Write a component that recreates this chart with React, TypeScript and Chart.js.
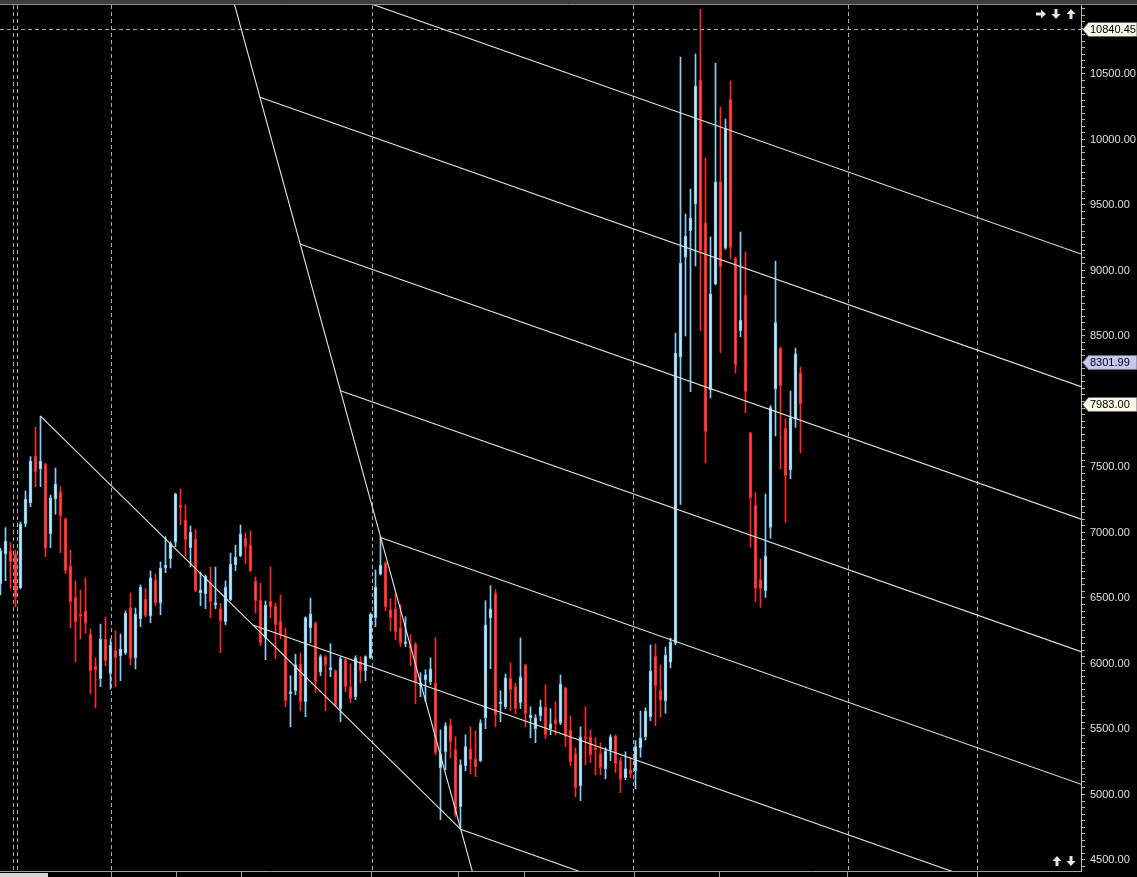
import React, { useEffect, useRef } from 'react';
import { Chart, registerables } from 'chart.js';

Chart.register(...registerables);

// ---- Candles (bar index 0..160) ----
const openPrices = [
  6607, 6834, 6859, 6836, 6579, 7067, 7227, 7584, 7485, 7523,
  6991, 7258, 7311, 7105, 6744, 6505, 6378, 6401, 6225, 5981,
  5884, 6187, 5925, 6103, 6059, 6078, 6424, 6044, 6342, 6492,
  6365, 6637, 6464, 6731, 6800, 6927, 7210, 7095, 6884, 6950,
  6540, 6533, 6614, 6449, 6418, 6319, 6487, 6754, 6823, 6958,
  6904, 6630, 6485, 6197, 6477, 6439, 6324, 6197, 5769, 5792,
  5998, 5708, 6273, 6311, 5937, 6052, 5953, 5945, 5655, 6029,
  5823, 5746, 6014, 5945, 6044, 6350, 6681, 6769, 6411, 6418,
  6273, 6151, 6143, 6151, 5830, 5876, 5861, 5853, 5204, 5326,
  5530, 5342, 4907, 5220, 5349, 5273, 5258, 5586, 6350, 6533,
  5693, 5670, 5889, 5828, 5701, 5988, 5586, 5502, 5601, 5670,
  5502, 5571, 5548, 5815, 5494, 5311, 5067, 5441, 5441, 5357,
  5311, 5197, 5342, 5448, 5258, 5128, 5189, 5181, 5357, 5441,
  5594, 6057, 5798, 5716, 6011, 6156, 8340, 9101, 9304, 9508,
  10454, 9363, 8088, 8897, 9676, 9170, 10309, 9095, 8540, 8813,
  7760, 7210, 6640, 6555, 7038, 8098, 8408, 7798, 7477, 7869,
  8218,
];
const highPrices = [
  6879, 7037, 6922, 6866, 7080, 7317, 7579, 7805, 7889, 7530,
  7286, 7492, 7350, 7111, 6866, 6630, 6561, 6653, 6263, 6042,
  6301, 6355, 6187, 6248, 6225, 6401, 6538, 6424, 6599, 6571,
  6706, 6683, 6775, 6968, 6930, 7301, 7332, 7210, 7050, 7019,
  6698, 6675, 6737, 6737, 6459, 6630, 6843, 6904, 7057, 6996,
  7011, 6660, 6614, 6477, 6737, 6462, 6523, 6271, 5907, 6070,
  6082, 6357, 6500, 6318, 6067, 6060, 6151, 5952, 6052, 6037,
  5998, 6059, 6052, 6059, 6385, 6714, 6968, 6776, 6495, 6533,
  6449, 6357, 6220, 6159, 5930, 5953, 6044, 6197, 5494, 5548,
  5576, 5441, 5265, 5456, 5517, 5487, 5571, 6479, 6594, 6563,
  5792, 5920, 6004, 5851, 6195, 5995, 5670, 5609, 5721, 5836,
  5655, 5708, 5912, 5820, 5601, 5357, 5517, 5670, 5494, 5433,
  5395, 5357, 5456, 5456, 5281, 5326, 5281, 5411, 5637, 5662,
  6141, 6149, 5988, 6126, 6195, 8523, 10630, 9431, 9622, 10653,
  10994, 9859, 9256, 10582, 10248, 10157, 10447, 9100, 9294, 9141,
  7765, 7304, 6799, 7294, 7969, 9072, 8415, 7869, 8080, 8408,
  8263,
];
const lowPrices = [
  6523, 6632, 6574, 6433, 6569, 7044, 7197, 7350, 7350, 6815,
  6884, 7139, 6846, 6688, 6273, 6014, 6187, 6230, 5767, 5662,
  5823, 5981, 5805, 5823, 5869, 6070, 5988, 5958, 6281, 6357,
  6311, 6441, 6372, 6693, 6729, 6892, 7059, 6823, 6739, 6548,
  6441, 6418, 6350, 6418, 6082, 6296, 6480, 6708, 6815, 6762,
  6700, 6385, 6136, 6029, 6350, 6037, 6189, 5670, 5517, 5762,
  5640, 5594, 6159, 5777, 5907, 5640, 5899, 5670, 5556, 5785,
  5701, 5724, 5853, 5869, 6037, 6281, 6675, 6403, 6250, 6182,
  6128, 6128, 5983, 5693, 5746, 5708, 5838, 5304, 4807, 5189,
  5281, 4830, 4742, 5181, 5159, 5136, 5250, 5502, 5960, 5517,
  5556, 5655, 5640, 5617, 5655, 5517, 5433, 5395, 5563, 5426,
  5456, 5456, 5533, 5365, 5220, 4983, 4953, 5227, 5243, 5151,
  5151, 5120, 5258, 5166, 5014, 5113, 5128, 5044, 5284, 5416,
  5563, 5525, 5589, 5620, 5966, 6141, 7214, 8500, 8075, 9034,
  8540, 7533, 8027, 8890, 8372, 9160, 9088, 8218, 8495, 7914,
  6889, 6473, 6428, 6504, 6956, 7737, 7485, 7077, 7410, 7802,
  7607,
];
const closePrices = [
  6861, 6935, 6777, 6510, 7065, 7256, 7546, 7464, 7546, 6879,
  7263, 7370, 7128, 6708, 6472, 6317, 6357, 6307, 5945, 5953,
  6187, 6021, 6141, 6044, 6111, 6385, 6037, 6378, 6584, 6365,
  6653, 6464, 6729, 6752, 6917, 7294, 7189, 6945, 7004, 6556,
  6561, 6668, 6472, 6464, 6327, 6584, 6759, 6813, 6988, 6892,
  6708, 6479, 6159, 6446, 6433, 6296, 6220, 5716, 5785, 5991,
  5708, 6350, 6380, 5861, 6052, 5991, 5968, 5678, 6037, 5823,
  5731, 6044, 5945, 6052, 6378, 6584, 6752, 6433, 6350, 6243,
  6159, 6166, 6120, 5853, 5853, 5914, 5960, 5319, 5311, 5525,
  5403, 4846, 5227, 5365, 5265, 5212, 5548, 6296, 6418, 5609,
  5708, 5889, 5800, 5655, 5897, 5617, 5607, 5586, 5670, 5456,
  5540, 5540, 5843, 5441, 5250, 5052, 5441, 5426, 5304, 5342,
  5204, 5334, 5441, 5235, 5113, 5197, 5159, 5365, 5433, 5637,
  5943, 5830, 5721, 6065, 6164, 8370, 9057, 9263, 9401, 10409,
  9151, 7769, 8821, 9676, 9029, 10088, 9174, 8279, 8622, 8075,
  7263, 6573, 6573, 6821, 7953, 8603, 8120, 7431, 7878, 8363,
  7983,
];

// ---- Axis ticks / markers ----
const yMin = 4416;
const yMax = 11026.7;
const yTickStep = 50;
const yLabelStep = 500;
const yLabelTop = 10500;
const xTickPositions = [22.1, 35.1, 48.1, 74.3, 91.5, 104.7, 126.7, 143.7, 169.3, 195.3];
const sessionBreaks = [2.56, 3.36, 22.16, 74.36, 126.6, 169.5, 195.3];
const referenceLevel = 10840.45;
const priceTagValues = [10840.45, 8301.99, 7983.0];
const priceTagKinds = ['cream', 'blue', 'cream'];

// ---- Drawn trend lines (bar index, price) ----
const trendLineDown = [[8, 7889], [92, 4735]];
const trendLineSteep = [[46, 11141], [95, 4325]];
const channelLines = [
  [[43.8, 11443], [217, 9114]],
  [[51.9, 10323], [217, 8102]],
  [[59.9, 9203], [217, 7090]],
  [[68.0, 8082], [217, 6078]],
  [[76.0, 6962], [217, 5066]],
  [[50.6, 6292], [217, 4054]],
  [[92.0, 4735], [217, 3042]],
];

const W = 1137;
const H = 877;

function arrow(ctx: CanvasRenderingContext2D, cx: number, cy: number, dir: 'up' | 'down' | 'right') {
  ctx.save();
  ctx.translate(cx, cy);
  if (dir === 'down') ctx.rotate(Math.PI);
  if (dir === 'right') ctx.rotate(Math.PI / 2);
  ctx.beginPath();
  ctx.moveTo(0, -5);
  ctx.lineTo(4.5, 0);
  ctx.lineTo(1.5, 0);
  ctx.lineTo(1.5, 5);
  ctx.lineTo(-1.5, 5);
  ctx.lineTo(-1.5, 0);
  ctx.lineTo(-4.5, 0);
  ctx.closePath();
  ctx.fill();
  ctx.restore();
}

const overlayPlugin = {
  id: 'overlay',
  beforeDatasetsDraw(chart: any) {
    const { ctx, chartArea, scales } = chart;
    const xs = scales.x;
    const ys = scales.y;
    ctx.save();
    ctx.strokeStyle = '#a8a8a8';
    ctx.lineWidth = 1;
    ctx.setLineDash([4, 3]);
    for (const v of sessionBreaks) {
      const px = Math.floor(xs.getPixelForValue(v)) + 0.5;
      ctx.beginPath();
      ctx.moveTo(px, chartArea.top);
      ctx.lineTo(px, chartArea.bottom);
      ctx.stroke();
    }
    const py = Math.floor(ys.getPixelForValue(referenceLevel)) + 0.5;
    ctx.beginPath();
    ctx.moveTo(chartArea.left, py);
    ctx.lineTo(chartArea.right, py);
    ctx.stroke();
    ctx.restore();
  },
  afterDraw(chart: any) {
    const { ctx, chartArea, scales } = chart;
    const xs = scales.x;
    const ys = scales.y;
    ctx.save();
    // top frame band
    ctx.fillStyle = '#3d3d3d';
    ctx.fillRect(0, 0, W, 4);
    ctx.strokeStyle = '#8c8c8c';
    ctx.lineWidth = 1;
    ctx.beginPath();
    ctx.moveTo(0, 4.5);
    ctx.lineTo(W, 4.5);
    ctx.stroke();

    // bottom axis tick marks
    ctx.strokeStyle = '#a0a0a0';
    ctx.beginPath();
    for (const v of xTickPositions) {
      const px = Math.floor(xs.getPixelForValue(v)) + 0.5;
      ctx.moveTo(px, chartArea.bottom);
      ctx.lineTo(px, H);
    }
    ctx.stroke();

    // scrollbar thumb
    ctx.fillStyle = '#d6d6d6';
    ctx.fillRect(0, 873, 48, 4);

    // price tags
    ctx.font = '11px "Liberation Sans"';
    ctx.textBaseline = 'middle';
    ctx.textAlign = 'left';
    priceTagValues.forEach((val, k) => {
      const y = Math.round(ys.getPixelForValue(val));
      const left = chartArea.right + 1;
      ctx.beginPath();
      ctx.moveTo(left + 0.5, y + 0.5);
      ctx.lineTo(left + 6.5, y - 6.5);
      ctx.lineTo(W, y - 6.5);
      ctx.lineTo(W, y + 7.5);
      ctx.lineTo(left + 6.5, y + 7.5);
      ctx.closePath();
      ctx.fillStyle = priceTagKinds[k] === 'blue' ? '#c6c6f2' : '#f8f8e4';
      ctx.fill();
      ctx.strokeStyle = '#6a6a6a';
      ctx.stroke();
      ctx.fillStyle = '#000';
      ctx.fillText(val.toFixed(2), left + 8, y + 1);
    });

    // navigation arrows
    ctx.fillStyle = '#e4e4e4';
    arrow(ctx, 1041, 14, 'right');
    arrow(ctx, 1056, 14, 'down');
    arrow(ctx, 1071, 14, 'up');
    arrow(ctx, 1057, 861, 'up');
    arrow(ctx, 1071, 861, 'down');
    ctx.restore();
  },
};

export default function App() {
  const canvasRef = useRef<HTMLCanvasElement | null>(null);

  useEffect(() => {
    document.body.style.margin = '0';
    document.body.style.background = '#000';
    const canvas = canvasRef.current;
    if (!canvas) return;

    const idx = openPrices.map((_, i) => i);
    const isUp = idx.map((i) => closePrices[i] >= openPrices[i]);

    const lineDs = (pts: number[][]) => ({
      type: 'line' as const,
      data: pts.map(([x, y]) => ({ x, y })),
      borderColor: '#e6e6de',
      borderWidth: 1.1,
      pointRadius: 0,
      tension: 0,
      fill: false,
      order: 0,
    });

    const chart = new Chart(canvas, {
      type: 'bar',
      data: {
        datasets: [
          lineDs(trendLineDown),
          lineDs(trendLineSteep),
          ...channelLines.map((l) => lineDs(l)),
          {
            type: 'bar',
            data: idx.map((i) => ({ x: i, y: [openPrices[i], closePrices[i]] })),
            backgroundColor: isUp.map((u) => (u ? '#bfe6fa' : '#ff4848')),
            borderColor: isUp.map((u) => (u ? '#7cc4e8' : '#e01e1e')),
            borderWidth: 1,
            borderSkipped: false,
            barThickness: 3,
            minBarLength: 2,
            grouped: false,
            order: 1,
          } as any,
          {
            type: 'bar',
            data: idx.map((i) => ({ x: i, y: [lowPrices[i], highPrices[i]] })),
            backgroundColor: isUp.map((u) => (u ? '#87cefa' : '#ff2a2a')),
            borderWidth: 0,
            barThickness: 1,
            minBarLength: 1,
            grouped: false,
            order: 2,
          } as any,
        ],
      },
      options: {
        responsive: false,
        devicePixelRatio: 1,
        animation: false,
        events: [],
        layout: { padding: { top: 5, left: 0, right: 0, bottom: 0 } },
        plugins: { legend: { display: false }, tooltip: { enabled: false } },
        scales: {
          x: {
            type: 'linear',
            min: -0.1,
            max: 216.1,
            offset: false,
            grid: { drawOnChartArea: false, drawTicks: false, color: '#a0a0a0' },
            border: { color: '#a0a0a0' },
            ticks: { display: false },
            afterFit: (s: any) => {
              s.height = 6;
              s.paddingLeft = 0;
              s.paddingRight = 0;
            },
          },
          y: {
            type: 'linear',
            position: 'right',
            min: yMin,
            max: yMax,
            grid: { drawOnChartArea: false, tickLength: 4, tickColor: '#bcbca8' },
            border: { color: '#bcbca8' },
            ticks: {
              stepSize: yTickStep,
              includeBounds: false,
              autoSkip: false,
              padding: 5,
              color: '#e0e0cc',
              font: { family: 'Liberation Sans', size: 11 },
              callback: (v: any) => {
                const n = Number(v);
                return n % yLabelStep === 0 && n <= yLabelTop ? n.toFixed(2) : '';
              },
            },
            afterFit: (s: any) => {
              s.width = 56;
              s.paddingTop = 0;
              s.paddingBottom = 0;
            },
          },
        },
      } as any,
      plugins: [overlayPlugin],
    });

    return () => chart.destroy();
  }, []);

  return (
    <div style={{ width: W, height: H, background: '#000' }}>
      <canvas ref={canvasRef} width={W} height={H} style={{ display: 'block' }} />
    </div>
  );
}
